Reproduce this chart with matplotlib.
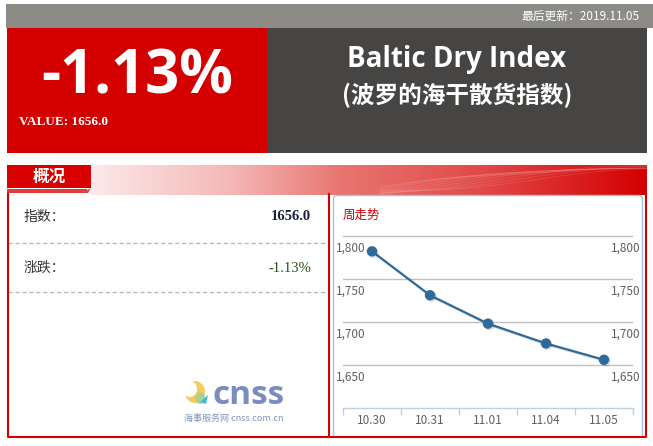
import matplotlib
matplotlib.use("Agg")
import matplotlib.pyplot as plt
import numpy as np
from matplotlib.patches import Rectangle, FancyBboxPatch, Polygon, Ellipse
from matplotlib.colors import LinearSegmentedColormap
from matplotlib import transforms
import matplotlib.patheffects as pe

plt.rcParams['font.family'] = ['Noto Sans CJK SC', 'DejaVu Sans']

# ---- data ----
dates = ["10.30", "10.31", "11.01", "11.04", "11.05"]
bdi_values = [1782, 1731, 1698, 1675, 1656]
y_ticks = [1650, 1700, 1750, 1800]
y_tick_labels = ["1,650", "1,700", "1,750", "1,800"]
change_text = "-1.13%"
value_text = "1656.0"
update_text = "最后更新：2019.11.05"
title_en = "Baltic Dry Index"
title_cn = "(波罗的海干散货指数)"

W, H = 653, 446
fig = plt.figure(figsize=(W / 100, H / 100), dpi=100)
bg = fig.add_axes([0, 0, 1, 1])
bg.set_xlim(0, W)
bg.set_ylim(H, 0)
bg.axis('off')


def rect(x0, y0, x1, y1, color, **kw):
    bg.add_patch(Rectangle((x0, y0), x1 - x0, y1 - y0, facecolor=color, edgecolor='none', **kw))


# top grey bar
rect(6, 4, W, 28, '#8c8b86')
bg.text(640, 16, update_text, color='white', fontsize=8.5, ha='right', va='center')

# red block and dark block
rect(7, 28, 267, 153, '#d40000')
rect(267, 28, 647, 153, '#474543')
bg.text(137, 78, change_text, color='white', fontsize=43, fontweight='bold',
        family=['Open Sans', 'DejaVu Sans'], ha='center', va='center')
bg.text(19, 122, "VALUE: " + value_text, color='white', fontsize=9.5, fontweight='bold',
        family=['Liberation Serif', 'DejaVu Serif'], ha='left', va='center')
bg.text(457, 59, title_en, color='white', fontsize=20, fontweight='bold',
        family=['Open Sans', 'DejaVu Sans'], ha='center', va='center')
bg.text(457, 95, title_cn, color='white', fontsize=17, fontweight='bold',
        ha='center', va='center')

# section header gradient
cmap = LinearSegmentedColormap.from_list(
    'hdr', [(0, '#fce9e9'), (0.25, '#f4b8b7'), (0.45, '#e87571'), (0.7, '#e14a48'), (1.0, '#d40000')])
grad = np.linspace(0, 1, 256).reshape(1, -1)
bg.imshow(grad, cmap=cmap, aspect='auto', extent=(91, 647, 195, 165), zorder=1)
# faint waves
xs = np.linspace(380, 647, 200)
for k in range(9):
    ys = 190 - (xs - 380) / 267 * (18 + 2 * k) + 4 * np.sin((xs - 380) / 50 + k * 0.5)
    ys = np.clip(ys, 166, 194)
    bg.plot(xs, ys, color='white', alpha=0.12, lw=0.6, zorder=2)
bg.set_xlim(0, W)
bg.set_ylim(H, 0)

# tab
rect(7, 165, 91, 188, '#d90000', zorder=3)
rect(7, 189, 87, 193, '#e23c3c', zorder=3)
bg.add_patch(Polygon([[82, 193], [91, 188], [88, 193]], closed=True, facecolor='#e23c3c',
                     edgecolor='none', zorder=3))
bg.text(49, 177, "概况", color='white', fontsize=12, fontweight='bold', ha='center', va='center', zorder=4)

# panel borders
red = '#d40000'
bg.plot([7.5, 7.5, 646, 646], [194, 437, 437, 194], color=red, lw=1.5, zorder=4)
bg.plot([328.5, 328.5], [194, 437], color=red, lw=1.5, zorder=4)

# left panel rows
bg.text(24, 217, "指数：", color='#333333', fontsize=10, ha='left', va='center')
bg.text(311, 217, value_text, color='#1a1f40', fontsize=10.5, fontweight='bold',
        family=['Liberation Serif', 'DejaVu Serif'], ha='right', va='center')
bg.plot([8, 328], [243, 243], color='#b8b8b8', lw=1, ls=(0, (3, 2)))
bg.text(24, 268, "涨跌：", color='#333333', fontsize=10, ha='left', va='center')
bg.text(311, 268, change_text, color='#2f5316', fontsize=10.5,
        family=['Liberation Serif', 'DejaVu Serif'], ha='right', va='center')
bg.plot([8, 328], [292, 292], color='#b8b8b8', lw=1, ls=(0, (3, 2)))

# logo
bg.add_patch(Ellipse((195, 392), 20, 22, facecolor='#f6c64a', edgecolor='none', alpha=0.9))
bg.add_patch(Ellipse((190, 389), 14, 16, facecolor='white', edgecolor='none'))
bg.add_patch(Ellipse((200, 398), 10, 12, facecolor='#a9d18e', edgecolor='none', alpha=0.9))
bg.add_patch(Polygon([[200, 402], [208, 395], [206, 404]], closed=True, facecolor='#3fb8e8', edgecolor='none'))
bg.text(212, 404, "cnss", color='#7b8cc0', fontsize=24, fontweight='bold',
        family=['Open Sans', 'DejaVu Sans'], ha='left', va='baseline')
bg.text(184, 418, "海事服务网 cnss.com.cn", color='#8494bb', fontsize=6.5, ha='left', va='center')

# right panel rounded box
bg.add_patch(FancyBboxPatch((333.5, 195.5), 309, 250, boxstyle='round,pad=0,rounding_size=4',
                            facecolor='white', edgecolor='#a6c2dc', lw=1, zorder=2))
rect(329.5, 438, 646, 446, 'white', zorder=3)
bg.text(343, 215, "周走势", color='#d40000', fontsize=9, ha='left', va='center', zorder=3)

# ---- chart ----
ax = fig.add_axes([343 / W, 1 - 408 / H, 290 / W, (408 - 235) / H])
ax.patch.set_alpha(0)
ax.set_zorder(5)
x = np.arange(len(dates))
ax.set_xlim(-0.5, len(dates) - 0.5)
ax.set_ylim(1600, 1801)
for s in ['top', 'left', 'right']:
    ax.spines[s].set_visible(False)
ax.spines['bottom'].set_color('#c0d0e0')
ax.spines['bottom'].set_linewidth(1)
ax.set_yticks(y_ticks)
ax.tick_params(axis='y', length=0, labelleft=False)
ax.grid(axis='y', color='#c0c0c0', lw=1)
ax.set_axisbelow(True)
ax.set_xticks(x)
ax.set_xticklabels(dates)
ax.tick_params(axis='x', which='major', length=0, pad=4, labelsize=8.5, labelcolor='#606060')
ax.set_xticks(np.arange(-0.5, len(dates)), minor=True)
ax.tick_params(axis='x', which='minor', length=5, color='#c0d0e0', width=1)

ax.plot(x, bdi_values, color='#2f6a9b', lw=1.6, marker='o', ms=6.5, clip_on=False,
        path_effects=[pe.SimpleLineShadow(offset=(1, -1), alpha=0.15, shadow_color='black'), pe.Normal()])

blend = transforms.blended_transform_factory(ax.transAxes, ax.transData)
tlab = transforms.offset_copy(blend, fig=fig, x=0, y=-12, units='dots')
for v, lab in zip(y_ticks, y_tick_labels):
    ax.text((336 - 343) / 290, v, lab, transform=tlab, ha='left', va='center',
            fontsize=8.5, color='#606060', clip_on=False)
    ax.text((641 - 343) / 290, v, lab, transform=tlab, ha='right', va='center',
            fontsize=8.5, color='#606060', clip_on=False)

fig.savefig('out.png', dpi=100)
